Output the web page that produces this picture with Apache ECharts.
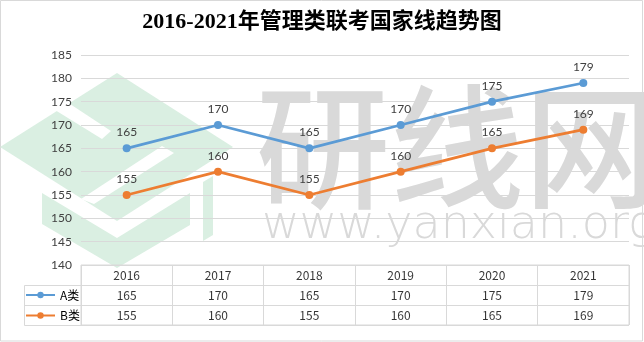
<!DOCTYPE html>
<html>
<head>
<meta charset="utf-8">
<script src="https://cdn.jsdelivr.net/npm/echarts@6/dist/echarts.min.js"></script>
<style>
html,body{margin:0;padding:0;background:#fff;}
#chart{width:644px;height:342px;}
</style>
</head>
<body>
<div id="chart"></div>
<script>
// ---- data ----
const years = ['2016', '2017', '2018', '2019', '2020', '2021'];
const seriesNames = ['A类', 'B类'];
const valuesA = [165, 170, 165, 170, 175, 179];
const valuesB = [155, 160, 155, 160, 165, 169];
const yMin = 140, yMax = 185, yStep = 5;
const titleText = '2016-2021年管理类联考国家线趋势图';
const watermarkCN = '研线网';
const watermarkURL = 'www.yanxian.org';

// ---- layout / style ----
const colors = ['#5B9BD5', '#ED7D31'];
const gridColor = '#d9d9d9';
const numFont = 'Lato, "Open Sans", sans-serif';
const tblFont = '"Noto Sans CJK SC", sans-serif';
const hdrKey = 'hdr';
const rowKeys = [hdrKey].concat(seriesNames);
const allValues = [valuesA, valuesB];

const tableData = [];
years.forEach((y, i) => tableData.push({value: [i, 0], text: y}));
seriesNames.forEach((n, s) => years.forEach((y, i) => tableData.push({value: [i, s + 1], text: String(allValues[s][i])})));

const green = '#daefe2';
const wmGray = '#d9d9d9';

const chart = echarts.init(document.getElementById('chart'), null, {renderer: 'canvas'});
chart.setOption({
  animation: false,
  color: colors,
  title: {
    text: titleText,
    left: 'center',
    top: 6,
    textStyle: {
      fontFamily: '"Liberation Serif", "Noto Sans CJK SC", serif',
      fontWeight: 'bold',
      fontSize: 22,
      color: '#000'
    }
  },
  legend: {
    data: seriesNames,
    orient: 'vertical',
    left: 25,
    top: 288,
    padding: 0,
    itemWidth: 29,
    itemHeight: 8,
    itemGap: 6.5,
    textStyle: {fontFamily: tblFont, fontSize: 12, color: '#000', lineHeight: 14}
  },
  graphic: [
    {type: 'rect', z: -20, shape: {x: 0.5, y: 0.5, width: 642, height: 340.5},
     style: {fill: '#fff', stroke: gridColor, lineWidth: 1}},
    {type: 'polygon', z: -15, shape: {points: [[117, 73], [233, 147], [117, 221], [0, 147]]}, style: {fill: green}},
    {type: 'polygon', z: -14, shape: {points: [[67, 102], [111, 131], [102, 139], [55, 110]]}, style: {fill: '#fff'}},
    {type: 'polygon', z: -14, shape: {points: [[162, 146], [174, 153], [94, 204], [81, 199]]}, style: {fill: '#fff'}},
    {type: 'polygon', z: -15, shape: {points: [[42, 193], [117, 238], [190, 193], [190, 225], [117, 268], [42, 224]]}, style: {fill: green}},
    {type: 'polygon', z: -15, shape: {points: [[203, 182], [213, 176], [213, 235], [203, 241]]}, style: {fill: green}},
    {type: 'text', z: -13, x: 256, y: 80,
     style: {text: watermarkCN, fontFamily: '"Noto Sans CJK SC"', fontWeight: 500, fontSize: 134,
             fill: wmGray, verticalAlign: 'top', align: 'left'}},
    {type: 'text', z: -13, x: 262, y: 203,
     style: {text: watermarkURL, fontFamily: '"DejaVu Sans ExtraLight", "DejaVu Sans"', fontWeight: 200, fontSize: 46,
             fill: wmGray, verticalAlign: 'top', align: 'left'}},
    {type: 'rect', z: 5, shape: {x: 24.5, y: 285.5, width: 57, height: 40},
     style: {fill: 'none', stroke: gridColor, lineWidth: 1}},
    {type: 'line', z: 5, shape: {x1: 24.5, y1: 305.5, x2: 81.5, y2: 305.5},
     style: {stroke: gridColor, lineWidth: 1}}
  ],
  grid: [
    {left: 81, right: 15, top: 55, height: 210},
    {left: 81, right: 15, top: 265, height: 60, show: true, borderColor: gridColor, borderWidth: 1, backgroundColor: 'transparent'}
  ],
  xAxis: [
    {type: 'category', gridIndex: 0, data: years, boundaryGap: true,
     axisLine: {show: false}, axisTick: {show: false}, axisLabel: {show: false}, splitLine: {show: false}},
    {type: 'category', gridIndex: 1, data: years, boundaryGap: true,
     axisLine: {show: false}, axisTick: {show: false}, axisLabel: {show: false},
     splitLine: {show: true, interval: 0, lineStyle: {color: gridColor, width: 1}}}
  ],
  yAxis: [
    {type: 'value', gridIndex: 0, min: yMin, max: yMax, interval: yStep,
     axisLine: {show: false}, axisTick: {show: false},
     axisLabel: {fontFamily: numFont, fontSize: 12, color: '#404040', margin: 9},
     splitLine: {lineStyle: {color: gridColor, width: 1}}},
    {type: 'category', gridIndex: 1, data: rowKeys, inverse: true, boundaryGap: true,
     axisLine: {show: false}, axisTick: {show: false}, axisLabel: {show: false},
     splitLine: {show: true, interval: 0, lineStyle: {color: gridColor, width: 1}}}
  ],
  series: [
    {name: seriesNames[0], type: 'line', data: valuesA, xAxisIndex: 0, yAxisIndex: 0,
     symbol: 'circle', symbolSize: 8, lineStyle: {width: 2.75}, z: 3,
     label: {show: true, position: 'top', distance: 6, fontFamily: numFont, fontSize: 12, color: '#404040'}},
    {name: seriesNames[1], type: 'line', data: valuesB, xAxisIndex: 0, yAxisIndex: 0,
     symbol: 'circle', symbolSize: 8, lineStyle: {width: 2.75}, z: 3,
     label: {show: true, position: 'top', distance: 6, fontFamily: numFont, fontSize: 12, color: '#404040'}},
    {name: 'table', type: 'scatter', xAxisIndex: 1, yAxisIndex: 1, data: tableData,
     symbol: 'rect', symbolSize: 2, itemStyle: {color: 'rgba(0,0,0,0)'}, silent: true, z: 6,
     label: {show: true, position: 'inside', formatter: p => p.data.text,
             fontFamily: tblFont, fontSize: 12, color: '#000'}}
  ]
});
</script>
</body>
</html>
